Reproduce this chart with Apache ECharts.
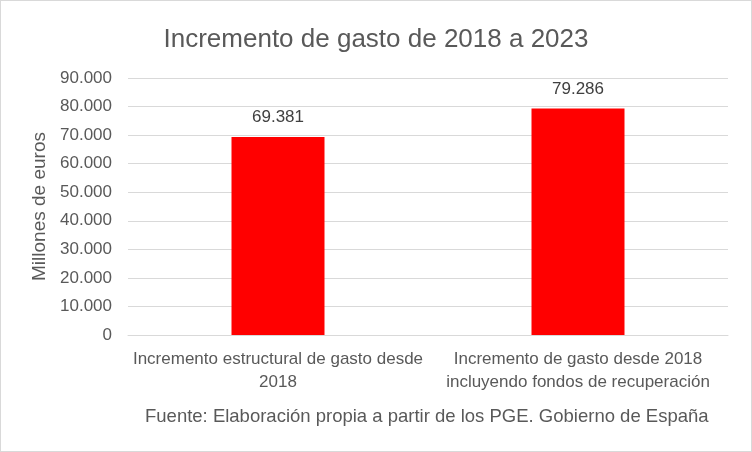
<!DOCTYPE html>
<html lang="es">
<head>
<meta charset="UTF-8" />
<title>Incremento de gasto</title>
<script src="https://cdn.jsdelivr.net/npm/echarts@6/dist/echarts.min.js"></script>
<style>
    * { margin: 0; padding: 0; }
    body { background: #fff; }
    #main {
        width: 750px;
        height: 450px;
        border: 1px solid #d9d9d9;
    }
</style>
</head>
<body>
<div id="main"></div>
<script>
    const categories = [
        "Incremento estructural de gasto desde\n2018",
        "Incremento de gasto desde 2018\nincluyendo fondos de recuperación"
    ];
    const values = [69381, 79286];
    const yMax = 90000;
    const yStep = 10000;

    const font = "'Liberation Sans', sans-serif";

    // formato con punto de miles
    function fmt(v) {
        return String(v).replace(/\B(?=(\d{3})+(?!\d))/g, ".");
    }

    var myChart = echarts.init(document.getElementById("main"));
    var option = {
        animation: false,
        textStyle: { fontFamily: font },
        title: [
            {
                text: "Incremento de gasto de 2018 a 2023",
                left: "center",
                top: 21,
                textStyle: { fontFamily: font, fontSize: 26, fontWeight: "normal", color: "#595959" }
            },
            {
                text: "Fuente: Elaboración propia a partir de los PGE. Gobierno de España",
                left: 139,
                top: 401,
                textStyle: { fontFamily: font, fontSize: 18.5, fontWeight: "normal", color: "#595959" }
            }
        ],
        grid: { left: 127, right: 23, top: 77, bottom: 116 },
        xAxis: {
            type: "category",
            data: categories,
            axisLine: { lineStyle: { color: "#d9d9d9", width: 1 } },
            axisTick: { show: false },
            axisLabel: {
                color: "#595959",
                fontSize: 17,
                fontFamily: font,
                margin: 13,
                lineHeight: 23,
                interval: 0
            }
        },
        yAxis: {
            type: "value",
            min: 0,
            max: yMax,
            interval: yStep,
            name: "Millones de euros",
            nameLocation: "middle",
            nameGap: 76,
            nameTextStyle: { color: "#595959", fontSize: 19, fontFamily: font },
            axisLine: { show: false },
            axisTick: { show: false },
            splitLine: { lineStyle: { color: "#d9d9d9", width: 1 } },
            axisLabel: {
                color: "#595959",
                fontSize: 17,
                fontFamily: font,
                margin: 16,
                formatter: fmt
            }
        },
        series: [
            {
                type: "bar",
                data: values,
                barWidth: "31%",
                itemStyle: { color: "#ff0000" },
                label: {
                    show: true,
                    position: "top",
                    distance: 11,
                    color: "#404040",
                    fontSize: 17,
                    fontFamily: font,
                    formatter: p => fmt(p.value)
                }
            }
        ]
    };
    myChart.setOption(option);
</script>
</body>
</html>
